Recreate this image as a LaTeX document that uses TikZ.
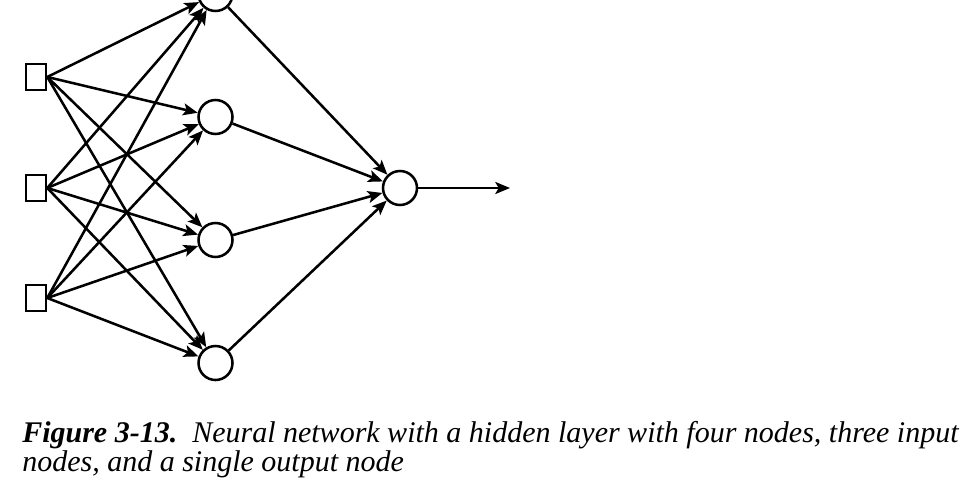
\documentclass[tikz,border=0pt]{standalone}
\usepackage{fontspec}
\setmainfont{Liberation Serif}
\usetikzlibrary{arrows.meta}
\begin{document}
\begin{tikzpicture}[x=0.75pt,y=-0.75pt,
  conn/.style={line width=1.9pt,-{Stealth[length=11pt,width=9pt,inset=2.5pt]}},
  inbox/.style={draw,line width=1.9pt,minimum width=15pt,minimum height=19.5pt,inner sep=0pt},
  neuron/.style={draw,line width=1.9pt,circle,minimum size=25.5pt,inner sep=0pt},
  captext/.style={anchor=base west,inner sep=0pt,font=\fontsize{22.5}{27}\selectfont\itshape}]
\useasboundingbox (0,0) rectangle (970,481);
\begin{scope}
\clip (0,0) rectangle (970,481);
\node[inbox] (i1) at (36,77) {};
\node[inbox] (i2) at (36,188) {};
\node[inbox] (i3) at (36,298) {};
\node[neuron] (h1) at (215.5,-6) {};
\node[neuron] (h2) at (215.5,117) {};
\node[neuron] (h3) at (215.5,240) {};
\node[neuron] (h4) at (215.5,363) {};
\node[neuron] (o) at (400,188) {};
\coordinate (out) at (510,188);
\foreach \i in {1,2,3}{
  \foreach \h in {1,2,3,4}{
    \draw[conn] (i\i.east) -- (h\h);
  }
}
\foreach \h in {1,2,3,4}{
  \draw[conn] (h\h) -- (o);
}
\draw[conn] (o.east) -- (out);
\end{scope}
\node[captext] (c1) at (22,442) {\textbf{Figure 3-13.}\ \ Neural network with a hidden layer with four nodes, three input};
\node[captext] (c2) at (22,471) {nodes, and a single output node};
\end{tikzpicture}
\end{document}
